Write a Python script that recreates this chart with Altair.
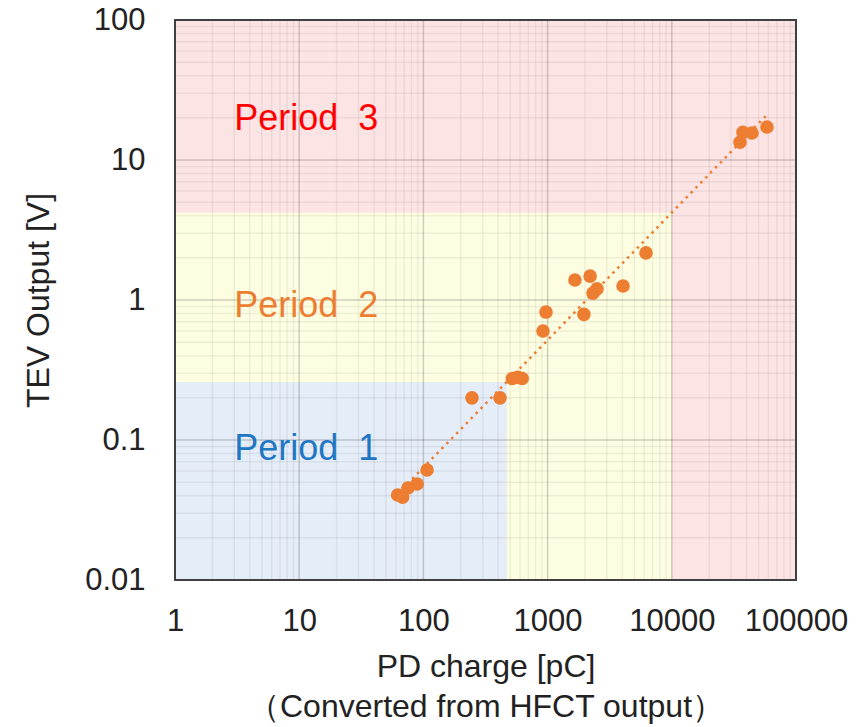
import altair as alt
import pandas as pd

# ---- data ----
pd_charge = [62, 68, 75, 89, 107, 246, 414, 520, 575, 625, 918, 971,
             1660, 2200, 2500, 2320, 1960, 4050, 6200,
             35400, 37400, 44200, 58400]
tev_output = [0.0405, 0.039, 0.0454, 0.0485, 0.061, 0.2, 0.2, 0.275, 0.28, 0.275, 0.6, 0.82,
              1.39, 1.48, 1.2, 1.12, 0.79, 1.26, 2.17,
              13.4, 15.8, 15.6, 17.2]

region_names = ["Period 3", "Period 2", "Period 1"]
region_x1 = [1, 1, 1]
region_x2 = [100000, 10000, 470]
region_y1 = [0.01, 0.01, 0.01]
region_y2 = [100, 4.2, 0.26]
region_colors = ["#fde4e4", "#fdfde1", "#e5edf8"]

label_text = ["Period\u00a0\u00a03", "Period\u00a0\u00a02", "Period\u00a0\u00a01"]
label_colors = ["#ff0000", "#ed7d31", "#1f77c4"]

x_major = [1, 10, 100, 1000, 10000, 100000]
y_major = [0.01, 0.1, 1, 10, 100]
x_minor = [round(m * 10 ** e, 6) for e in range(0, 5) for m in range(2, 10)]
y_minor = [round(m * 10 ** e, 6) for e in range(-2, 2) for m in range(2, 10)]

FONT = "Liberation Sans"

pts = pd.DataFrame({"x": pd_charge, "y": tev_output})
regions = pd.DataFrame({"name": region_names, "x1": region_x1, "x2": region_x2,
                        "y1": region_y1, "y2": region_y2, "c": region_colors})

xscale = alt.Scale(type="log", domain=[1, 100000], nice=False)
yscale = alt.Scale(type="log", domain=[0.01, 100], nice=False)

xaxis = alt.Axis(values=x_major, labelExpr="'' + datum.value", grid=False, domain=False,
                 ticks=False, tickSize=0, labelPadding=26, labelFontSize=31, labelFont=FONT,
                 labelColor="#222222", labelOverlap=False, labelFlush=False,
                 title=["PD charge [pC]", "（Converted from HFCT output）"],
                 titleFont=FONT, titleFontSize=32, titleFontWeight="normal", titleColor="#222222",
                 titleBaseline="alphabetic", titleY=96, titleLineHeight=40)
yaxis = alt.Axis(values=y_major, labelExpr="'' + datum.value", grid=False, domain=False,
                 ticks=False, tickSize=0, labelPadding=30, labelFontSize=31, labelFont=FONT,
                 labelColor="#222222", labelOverlap=False, labelFlush=False,
                 title="TEV Output [V]", titleFont=FONT, titleFontSize=32,
                 titleFontWeight="normal", titleColor="#222222",
                 titleAngle=270, titleBaseline="middle", titleX=-137, titleY=280)

base = alt.Chart(pts)
reg = alt.Chart(regions)

rects = reg.mark_rect().encode(
    x=alt.X("x1:Q", scale=xscale, axis=xaxis),
    x2="x2:Q",
    y=alt.Y("y1:Q", scale=yscale, axis=yaxis),
    y2="y2:Q",
    color=alt.Color("c:N", scale=None),
)

frame = reg.transform_filter("datum.name == 'Period 3'").mark_rect(
    filled=False, stroke="#404040", strokeWidth=2).encode(
    x=alt.X("x1:Q", scale=xscale), x2="x2:Q",
    y=alt.Y("y1:Q", scale=yscale), y2="y2:Q")

gx_minor = alt.Chart(pd.DataFrame({"v": x_minor})).mark_rule(
    color="#000000", opacity=0.06, strokeWidth=1.5).encode(x=alt.X("v:Q", scale=xscale))
gy_minor = alt.Chart(pd.DataFrame({"v": y_minor})).mark_rule(
    color="#000000", opacity=0.06, strokeWidth=1.5).encode(y=alt.Y("v:Q", scale=yscale))
gx_major = alt.Chart(pd.DataFrame({"v": x_major})).mark_rule(
    color="#000000", opacity=0.18, strokeWidth=1.5).encode(x=alt.X("v:Q", scale=xscale))
gy_major = alt.Chart(pd.DataFrame({"v": y_major})).mark_rule(
    color="#000000", opacity=0.18, strokeWidth=1.5).encode(y=alt.Y("v:Q", scale=yscale))

trend = base.transform_regression("x", "y", method="pow").mark_line(
    color="#ed7d31", strokeWidth=2.5, strokeDash=[2.5, 4.5]).encode(
    x=alt.X("x:Q", scale=xscale), y=alt.Y("y:Q", scale=yscale))

points = base.mark_circle(size=185, color="#ed7d31", opacity=1).encode(
    x=alt.X("x:Q", scale=xscale), y=alt.Y("y:Q", scale=yscale))

label_y = [16.4, 0.756, 0.072]
labels = []
for t, c, yy in zip(label_text, label_colors, label_y):
    labels.append(alt.Chart(pd.DataFrame({"t": [t]})).mark_text(
        align="left", baseline="alphabetic", font=FONT, fontSize=36, color=c).encode(
        x=alt.datum(3.0, scale=xscale), y=alt.datum(yy, scale=yscale), text="t:N"))

chart = alt.layer(rects, gx_minor, gy_minor, gx_major, gy_major, trend, points, *labels, frame).properties(
    width=621, height=560,
    autosize=alt.AutoSizeParams(type="none"),
    padding={"left": 167, "top": 12, "right": 64, "bottom": 145},
).configure_view(strokeWidth=0).configure(background="white")

chart.save("out.html", embed_options={"renderer": "svg", "actions": False})
